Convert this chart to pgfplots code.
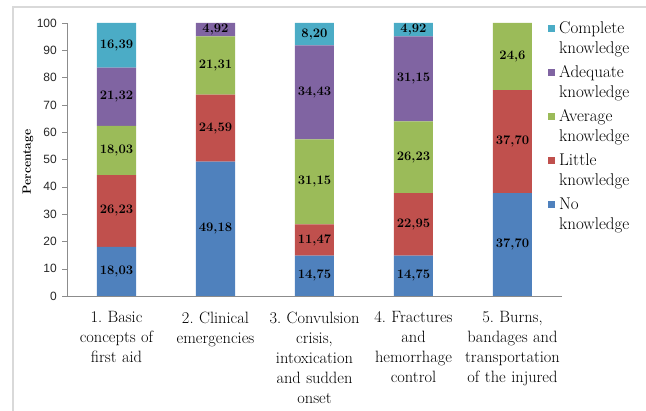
\documentclass[border=0pt]{standalone}
\usepackage{fontspec}
\usepackage{pgfplots}
\usepackage{pgfplotstable}
\pgfplotsset{compat=1.18}
\newfontfamily\ticksans{Liberation Sans}
\definecolor{cNo}{HTML}{4F81BD}
\definecolor{cLittle}{HTML}{C0504D}
\definecolor{cAvg}{HTML}{9BBB59}
\definecolor{cAdq}{HTML}{8064A2}
\definecolor{cComp}{HTML}{4BACC6}
\definecolor{axgray}{HTML}{8C8C8C}
\definecolor{framegray}{HTML}{D9D9D9}
\newcommand\lblfont{\fontsize{16.4bp}{20bp}\selectfont}
\newcommand\legfont{\fontsize{17bp}{20bp}\selectfont}
\newcommand\valfont{\fontsize{13bp}{15bp}\selectfont\bfseries}
\frenchspacing

\pgfplotstableread{
x no little avg adq comp
0 18.03 26.23 18.03 21.32 16.39
1 49.18 24.59 21.31 4.92 0
2 14.75 11.47 31.15 34.43 8.20
3 14.75 22.95 26.23 31.15 4.92
4 37.70 37.70 24.6 0 0
}\datatable

\pgfplotstableread{
x y l
0 9.015 18,03
0 31.145 26,23
0 53.275 18,03
0 72.95 21,32
0 91.805 16,39
1 24.59 49,18
1 61.475 24,59
1 84.425 21,31
1 97.54 4,92
2 7.375 14,75
2 20.485 11,47
2 41.795 31,15
2 74.585 34,43
2 95.9 8,20
3 7.375 14,75
3 26.225 22,95
3 50.815 26,23
3 79.505 31,15
3 97.54 4,92
4 18.85 37,70
4 56.55 37,70
4 87.7 24,6
}\labeltable

\begin{document}
\begin{tikzpicture}
\useasboundingbox (0,0) rectangle (646bp,411bp);
\draw[framegray, line width=1.5bp] (13bp,-5bp) -- (13bp,404bp) -- (652bp,404bp);
\begin{axis}[
  at={(67bp,115bp)}, anchor=south west,
  scale only axis, width=495bp, height=273bp,
  ybar stacked, bar width=39bp,
  xmin=-0.5, xmax=4.5, ymin=0, ymax=100,
  axis lines*=left,
  axis line style={axgray},
  tick style={axgray},
  tick align=outside,
  major tick length=5bp,
  ytick={0,10,...,100},
  xtick={0,1,2,3,4},
  xticklabels={{1. Basic\\concepts of\\first aid},{2. Clinical\\emergencies},{3. Convulsion\\crisis,\\intoxication\\and sudden\\onset},{4. Fractures\\and\\hemorrhage\\control},{5. Burns,\\bandages and\\transportation\\of the injured}},
  xtick style={draw=none},
  extra x ticks={-0.5,0.5,1.5,2.5,3.5,4.5},
  extra x tick labels={},
  extra x tick style={tick style={axgray}, major tick length=5bp},
  xticklabel style={font=\lblfont, align=center, text width=100bp, anchor=north, inner sep=0pt, yshift=-10.5bp},
  yticklabel style={font=\ticksans\fontsize{12bp}{12bp}\selectfont, text=black!85, anchor=east, inner sep=0pt, xshift=-5bp},
  /pgf/number format/assume math mode=true,
  ylabel={Percentage},
  ylabel style={at={(axis description cs:-0.0788,0.4908)}, anchor=center, rotate=0, font=\fontsize{12bp}{12bp}\selectfont\bfseries},
  legend cell align=left,
  reverse legend,
  legend image code/.code={\fill[#1] (0bp,1.5bp) rectangle (7bp,8.5bp);},
  legend style={at={(1,1)}, anchor=north west, xshift=-14bp, yshift=1bp, draw=none, fill=none, inner sep=0pt, row sep=0pt, column sep=4bp,
    cells={anchor=base west},
    nodes={inner sep=0pt, text width=82bp, align=left, text height=11bp, text depth=33bp, font=\legfont}},
]
\addplot[fill=cNo, draw=none] table[x=x, y=no] {\datatable};
\addlegendentry{No\\knowledge}
\addplot[fill=cLittle, draw=none] table[x=x, y=little] {\datatable};
\addlegendentry{Little\\knowledge}
\addplot[fill=cAvg, draw=none] table[x=x, y=avg] {\datatable};
\addlegendentry{Average\\knowledge}
\addplot[fill=cAdq, draw=none] table[x=x, y=adq] {\datatable};
\addlegendentry{Adequate\\knowledge}
\addplot[fill=cComp, draw=none] table[x=x, y=comp] {\datatable};
\addlegendentry{Complete\\knowledge}
\end{axis}
\begin{axis}[
  at={(67bp,115bp)}, anchor=south west,
  scale only axis, width=495bp, height=273bp,
  xmin=-0.5, xmax=4.5, ymin=0, ymax=100,
  hide axis,
]
\addplot[only marks, mark=none, nodes near coords, point meta=explicit symbolic,
  every node near coord/.append style={anchor=center, font=\valfont, text=black, inner sep=0pt}]
  table[x=x, y=y, meta=l] {\labeltable};
\end{axis}
\end{tikzpicture}
\end{document}
